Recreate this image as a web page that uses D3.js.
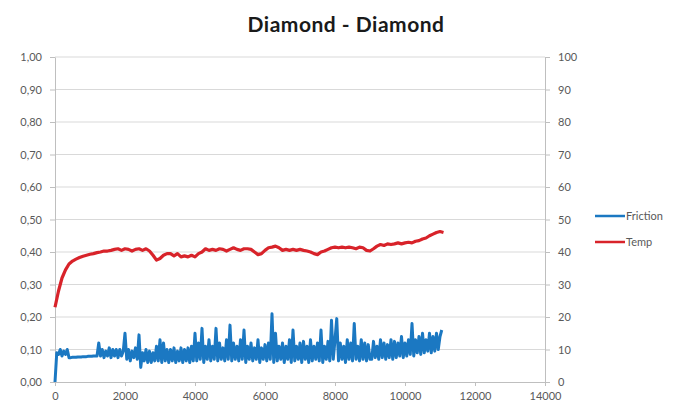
<!DOCTYPE html>
<html>
<head>
<meta charset="utf-8">
<script src="https://cdn.jsdelivr.net/npm/d3@7"></script>
<style>
  html, body { margin: 0; padding: 0; background: #fff; }
  svg { display: block; }
</style>
</head>
<body>
<svg id="chart" width="684" height="409"></svg>
<script>
// Friction coefficient, sampled every 50 time units starting at 0
const frictionStep = 50;
const frictionValues = [
  0.00, 0.09, 0.085, 0.10, 0.08, 0.095, 0.085, 0.10,
  0.075, 0.075, 0.076, 0.076, 0.076, 0.077, 0.077, 0.077, 0.078, 0.078, 0.078, 0.079, 0.079, 0.079, 0.08, 0.08, 0.08,
  0.12, 0.08, 0.10, 0.075, 0.095, 0.08, 0.105, 0.075, 0.10, 0.08, 0.10, 0.075, 0.10, 0.08, 0.095, 0.15,
  0.07, 0.10, 0.065, 0.095, 0.075, 0.105, 0.07, 0.145, 0.045, 0.09, 0.065, 0.10, 0.06, 0.095, 0.06, 0.09, 0.065, 0.11, 0.065, 0.13,
  0.06, 0.12, 0.065, 0.10, 0.06, 0.10, 0.065, 0.105, 0.06, 0.095, 0.065, 0.105, 0.06, 0.10, 0.065, 0.105, 0.06, 0.11, 0.065, 0.15,
  0.065, 0.12, 0.07, 0.165, 0.06, 0.11, 0.07, 0.13, 0.065, 0.11, 0.07, 0.165, 0.065, 0.12, 0.07, 0.105, 0.065, 0.13, 0.07, 0.175,
  0.065, 0.12, 0.07, 0.11, 0.065, 0.13, 0.07, 0.16, 0.06, 0.11, 0.07, 0.12, 0.065, 0.105, 0.07, 0.13, 0.06, 0.105, 0.07, 0.115,
  0.065, 0.12, 0.07, 0.21, 0.06, 0.15, 0.065, 0.11, 0.07, 0.12, 0.06, 0.11, 0.07, 0.13, 0.06, 0.16, 0.065, 0.11, 0.07, 0.12,
  0.06, 0.125, 0.07, 0.11, 0.06, 0.13, 0.065, 0.11, 0.07, 0.12, 0.065, 0.16, 0.06, 0.11, 0.07, 0.125, 0.065, 0.19, 0.07, 0.13,
  0.195, 0.065, 0.12, 0.07, 0.11, 0.06, 0.13, 0.07, 0.12, 0.065, 0.18, 0.07, 0.11, 0.065, 0.13, 0.07, 0.12, 0.065, 0.115, 0.07,
  0.07, 0.125, 0.075, 0.11, 0.07, 0.13, 0.075, 0.12, 0.07, 0.115, 0.075, 0.13, 0.07, 0.125, 0.075, 0.12, 0.08, 0.14, 0.075, 0.12,
  0.08, 0.13, 0.085, 0.18, 0.08, 0.13, 0.09, 0.14, 0.085, 0.15, 0.09, 0.13, 0.095, 0.15, 0.09, 0.14, 0.095, 0.15, 0.10, 0.14, 0.16
];

// Temperature (°C), sampled every 100 time units starting at 0
const tempStep = 100;
const tempValues = [
  23, 28, 32, 34.5, 36.3, 37.2, 37.8, 38.3, 38.7, 39, 39.3, 39.5, 39.8, 40, 40.3,
  40.3, 40.5, 40.8, 41, 40.5, 41, 40.8, 40.3, 40.8, 41, 40.5, 41, 40.3, 39, 37.5,
  38, 39, 39.5, 39.5, 38.8, 39.5, 38.5, 38.8, 38.5, 39,
  38.5, 39.5, 40, 41, 40.5, 40.8, 40.5, 41, 40.8, 40.3,
  40.8, 41.3, 40.8, 40.5, 41, 41, 40.8, 40, 39.2, 39.5,
  40.5, 41.3, 41.5, 41.8, 41.3, 40.5, 40.8, 40.5, 40.8, 40.5,
  40.8, 40.5, 40.3, 40, 39.5, 39.2, 40, 40.3, 40.8, 41.3,
  41.5, 41.3, 41.5, 41.3, 41.5, 41.3, 41, 41.5, 41.3, 40.5,
  40.3, 41, 41.8, 42.3, 42, 42.5, 42.3, 42.5, 42.8, 42.5,
  42.8, 43, 42.8, 43.3, 43.5, 44, 44.3, 45, 45.5, 46, 46.3, 46
];

const xTicks = [0, 2000, 4000, 6000, 8000, 10000, 12000, 14000];
const frictionTicks = [0, 0.1, 0.2, 0.3, 0.4, 0.5, 0.6, 0.7, 0.8, 0.9, 1.0];
const tempTicks = [0, 10, 20, 30, 40, 50, 60, 70, 80, 90, 100];
const seriesNames = ["Friction", "Temp"];
const seriesColors = ["#1b78c2", "#d8232a"];
const titleText = "Diamond - Diamond";

const svg = d3.select("#chart");
const font = "Lato, 'Open Sans', sans-serif";
const margin = { left: 55, right: 545, top: 57, bottom: 382 };

const x = d3.scaleLinear().domain([0, 14000]).range([margin.left, margin.right]);
const yL = d3.scaleLinear().domain([0, 1]).range([margin.bottom, margin.top]);
const yR = d3.scaleLinear().domain([0, 100]).range([margin.bottom, margin.top]);

// Horizontal gridlines
svg.append("g")
  .selectAll("line")
  .data(frictionTicks.slice(1))
  .join("line")
  .attr("x1", margin.left).attr("x2", margin.right)
  .attr("y1", d => yL(d)).attr("y2", d => yL(d))
  .attr("stroke", "#d9d9d9").attr("stroke-width", 1);

function styleAxis(g) {
  g.selectAll(".domain").attr("stroke", "#bfbfbf");
  g.selectAll(".tick line").attr("stroke", "#bfbfbf");
  g.selectAll(".tick text").attr("fill", "#595959")
    .style("font-family", font).style("font-size", "11px");
}

// Left axis (friction)
svg.append("g")
  .attr("transform", `translate(${margin.left},0)`)
  .call(d3.axisLeft(yL).tickValues(frictionTicks)
    .tickFormat(d => d3.format(".2f")(d).replace(".", ","))
    .tickSize(5).tickSizeOuter(0).tickPadding(8))
  .call(styleAxis);

// Right axis (temperature)
svg.append("g")
  .attr("transform", `translate(${margin.right},0)`)
  .call(d3.axisRight(yR).tickValues(tempTicks)
    .tickSize(5).tickSizeOuter(0).tickPadding(8))
  .call(styleAxis);

// Bottom axis (time)
svg.append("g")
  .attr("transform", `translate(0,${margin.bottom})`)
  .call(d3.axisBottom(x).tickValues(xTicks).tickFormat(d3.format("d"))
    .tickSize(4).tickSizeOuter(0).tickPadding(6))
  .call(styleAxis);

// Series lines
const frictionData = frictionValues.map((v, i) => [i * frictionStep, v]);
const tempData = tempValues.map((v, i) => [i * tempStep, v]);

svg.append("path")
  .datum(tempData)
  .attr("fill", "none")
  .attr("stroke", seriesColors[1])
  .attr("stroke-width", 3.2)
  .attr("stroke-linejoin", "round")
  .attr("d", d3.line().x(d => x(d[0])).y(d => yR(d[1])));

svg.append("path")
  .datum(frictionData)
  .attr("fill", "none")
  .attr("stroke", seriesColors[0])
  .attr("stroke-width", 3)
  .attr("stroke-linejoin", "round")
  .attr("d", d3.line().x(d => x(d[0])).y(d => yL(d[1])));

// Title
svg.append("text")
  .attr("x", 346).attr("y", 32)
  .attr("text-anchor", "middle")
  .style("font-family", font)
  .style("font-weight", "bold")
  .style("font-size", "21px")
  .style("letter-spacing", "0.5px")
  .attr("fill", "#1a1a1a")
  .text(titleText);

// Legend
const legend = svg.append("g");
seriesNames.forEach((name, i) => {
  const ly = 216 + i * 26;
  legend.append("line")
    .attr("x1", 595).attr("x2", 625)
    .attr("y1", ly).attr("y2", ly)
    .attr("stroke", seriesColors[i]).attr("stroke-width", 2.5);
  legend.append("text")
    .attr("x", 626).attr("y", ly + 4)
    .style("font-family", font).style("font-size", "11px")
    .attr("fill", "#595959")
    .text(name);
});
</script>
</body>
</html>
